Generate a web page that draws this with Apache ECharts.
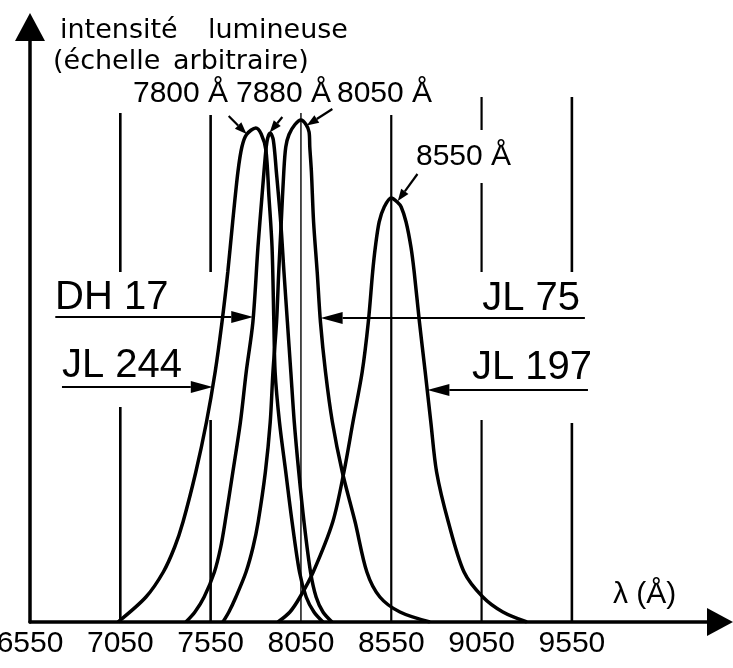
<!DOCTYPE html>
<html>
<head>
<meta charset="utf-8">
<script src="https://cdn.jsdelivr.net/npm/echarts@6/dist/echarts.min.js"></script>
<style>
  html, body { margin: 0; padding: 0; background: #fff; }
  #chart { width: 733px; height: 668px; }
</style>
</head>
<body>
<div id="chart"></div>
<script>
// Wavelength tick labels (Å)
const tickLabels = [6550, 7050, 7550, 8050, 8550, 9050, 9550];

// Emission profiles: [wavelength (Å), intensity (arbitrary units)]
const jl244 = [[7037,0],[7192,5],[7288,10],[7351,15],[7397,20],[7468,30],[7527,40],[7575,50],[7613,60],[7645,70],[7672,80],[7701,90],[7723,95],[7749,97.5],[7800,98.8],[7830,97.6],[7856,94.4],[7873,85],[7890,75],[7900,60],[7907,50],[7931,40],[7966,30],[8001,20],[8042,10],[8079,5],[8122,2],[8172,0]];
const dh17  = [[7413,0],[7463,2],[7514,5],[7571,10],[7606,15],[7630,20],[7673,30],[7715,40],[7747,50],[7784,60],[7812,75],[7834,85],[7856,94.4],[7866,96.8],[7880,97.8],[7897,96.4],[7914,90],[7938,80],[7956,70],[7975,60],[7994,50],[8013,40],[8038,30],[8067,20],[8103,10],[8134,5],[8172,2],[8222,0]];
const jl75  = [[7618,0],[7651,2],[7690,5],[7746,10],[7785,15],[7813,20],[7853,30],[7880,40],[7895,50],[7915,60],[7927,70],[7941,80],[7955,90],[7966,95],[7984,97.5],[8017,99.5],[8050,100.4],[8078,99.5],[8095,98],[8099,95],[8108,90],[8120,80],[8140,70],[8158,60],[8186,50],[8224,40],[8279,30],[8350,20],[8415,10],[8487,5],[8598,2],[8764,0]];
const jl197 = [[7923,0],[7989,2],[8045,5],[8118,10],[8226,20],[8288,30],[8338,40],[8389,50],[8423,60],[8447,70],[8462,75],[8483,80],[8511,83],[8550,84.8],[8583,84],[8605,83],[8632,80],[8659,75],[8677,70],[8706,60],[8738,50],[8769,40],[8801,30],[8866,20],[8953,10],[9057,5],[9168,2],[9301,0]];

// Peak wavelengths written above the curves
const peakLabels = ['7800 Å', '7880 Å', '8050 Å', '8550 Å'];
// Filter names
const filterNames = ['DH 17', 'JL 244', 'JL 75', 'JL 197'];

// Vertical reference rules: [wavelength, from, to, width]
const rules = [
  [7050, 0, 43, 2.6], [7050, 70, 101.8, 2.6],
  [7550, 0, 40.4, 2.6], [7550, 70, 101.4, 2.6],
  [8050, 0, 101.8, 1.4],
  [8550, 0, 101.4, 2.2],
  [9050, 0, 40.4, 2.2], [9050, 70, 87.8, 2.2], [9050, 98.4, 105, 2.2],
  [9550, 0, 39.8, 2.6], [9550, 70, 105, 2.6]
];

// Pointer arrows: [x1, y1, x2 (tip), y2 (tip), head length, head half-width]
const pointers = [
  [7650, 101.2, 7749, 97.6, 12, 4.5],
  [7947, 101, 7877, 97.9, 12, 4.5],
  [8224, 102.6, 8082, 99.3, 12, 4.5],
  [8695, 89.6, 8586, 84.2, 12, 4.5],
  [6690, 61, 7786, 61, 22, 6],
  [6727, 47, 7562, 47, 22, 6],
  [9622, 60.8, 8159, 60.8, 22, 6],
  [9639, 46.4, 8750, 46.4, 22, 6]
];

const SANS = '"Liberation Sans", Arial, sans-serif';
const TITLE = '"DejaVu Sans", sans-serif';

const chart = echarts.init(document.getElementById('chart'), null, { renderer: 'canvas' });

function profile(data) {
  return {
    type: 'line',
    data: data,
    showSymbol: false,
    smooth: 0.3,
    lineStyle: { color: '#000', width: 3.5 },
    silent: true,
    z: 3
  };
}

const option = {
  animation: false,
  backgroundColor: '#fff',
  grid: { left: 30, right: 13, top: 27, bottom: 46, containLabel: false, outerBoundsMode: 'none' },
  xAxis: {
    type: 'value',
    min: 6550,
    max: 10370,
    axisLine: {
      show: true,
      lineStyle: { color: '#000', width: 3.5 },
      symbol: ['none', 'triangle'],
      symbolSize: [28, 26]
    },
    axisTick: { show: false },
    splitLine: { show: false },
    axisLabel: {
      customValues: tickLabels,
      formatter: function (v) { return String(v); },
      color: '#000',
      fontFamily: SANS,
      fontSize: 30,
      margin: 7
    }
  },
  yAxis: {
    type: 'value',
    min: 0,
    max: 119,
    axisLine: {
      show: true,
      onZero: false,
      lineStyle: { color: '#000', width: 3.5 },
      symbol: ['none', 'triangle'],
      symbolSize: [30, 28]
    },
    axisTick: { show: false },
    axisLabel: { show: false },
    splitLine: { show: false }
  },
  series: [
    {
      type: 'custom',
      data: rules,
      clip: false,
      silent: true,
      z: 2,
      encode: { x: 0, y: [1, 2] },
      renderItem: function (params, api) {
        const a = api.coord([api.value(0), api.value(1)]);
        const b = api.coord([api.value(0), api.value(2)]);
        return {
          type: 'line',
          shape: { x1: a[0], y1: a[1], x2: b[0], y2: b[1] },
          style: { stroke: '#000', lineWidth: api.value(3) }
        };
      }
    },
    profile(jl244),
    profile(dh17),
    profile(jl75),
    profile(jl197),
    {
      type: 'custom',
      data: pointers,
      clip: false,
      silent: true,
      z: 4,
      encode: { x: [0, 2], y: [1, 3] },
      renderItem: function (params, api) {
        const p = api.coord([api.value(0), api.value(1)]);
        const t = api.coord([api.value(2), api.value(3)]);
        const len = api.value(4), hw = api.value(5);
        const dx = t[0] - p[0], dy = t[1] - p[1];
        const d = Math.sqrt(dx * dx + dy * dy);
        const ux = dx / d, uy = dy / d;
        const bx = t[0] - ux * len, by = t[1] - uy * len;
        return {
          type: 'group',
          children: [
            {
              type: 'line',
              shape: { x1: p[0], y1: p[1], x2: bx, y2: by },
              style: { stroke: '#000', lineWidth: 2.2 }
            },
            {
              type: 'polygon',
              shape: { points: [[t[0], t[1]], [bx - uy * hw, by + ux * hw], [bx + uy * hw, by - ux * hw]] },
              style: { fill: '#000' }
            }
          ]
        };
      }
    }
  ],
  graphic: [
    { type: 'text', left: 60, top: 17, style: { text: 'intensité', font: '27px ' + TITLE, fill: '#000' } },
    { type: 'text', left: 208, top: 17, style: { text: 'lumineuse', font: '27px ' + TITLE, fill: '#000' } },
    { type: 'text', left: 53, top: 48, style: { text: '(échelle', font: '27px ' + TITLE, fill: '#000' } },
    { type: 'text', left: 173, top: 48, style: { text: 'arbitraire)', font: '27px ' + TITLE, fill: '#000' } },

    { type: 'text', left: 133, top: 79, style: { text: peakLabels[0], font: '30px ' + SANS, fill: '#000' } },
    { type: 'text', left: 236, top: 79, style: { text: peakLabels[1], font: '30px ' + SANS, fill: '#000' } },
    { type: 'text', left: 337, top: 79, style: { text: peakLabels[2], font: '30px ' + SANS, fill: '#000' } },
    { type: 'text', left: 416, top: 142, style: { text: peakLabels[3], font: '30px ' + SANS, fill: '#000' } },

    { type: 'text', left: 55, top: 278, style: { text: filterNames[0], font: '40px ' + SANS, fill: '#000' } },
    { type: 'text', left: 62, top: 346, style: { text: filterNames[1], font: '40px ' + SANS, fill: '#000' } },
    { type: 'text', right: 153, top: 279, style: { text: filterNames[2], font: '40px ' + SANS, fill: '#000' } },
    { type: 'text', right: 141, top: 348, style: { text: filterNames[3], font: '40px ' + SANS, fill: '#000' } },

    { type: 'text', left: 613, top: 580, style: { text: 'λ (Å)', font: '30px ' + SANS, fill: '#000' } }
  ]
};

chart.setOption(option);
</script>
</body>
</html>
